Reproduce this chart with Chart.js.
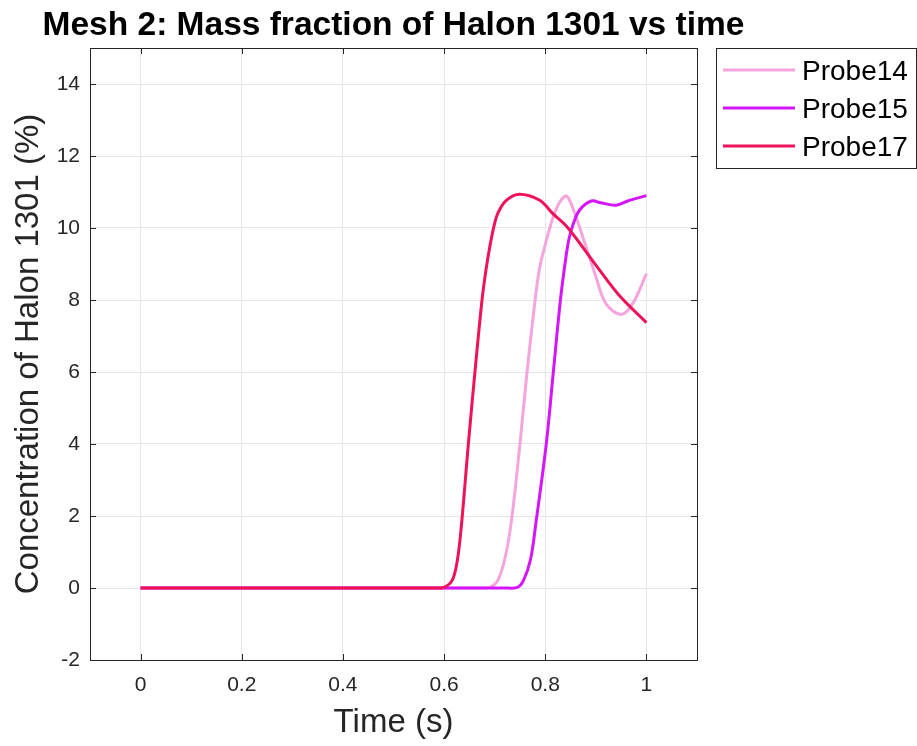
<!DOCTYPE html>
<html>
<head>
<meta charset="utf-8">
<script src="https://cdn.jsdelivr.net/npm/chart.js@4.4.0/dist/chart.umd.min.js"></script>
<style>
  body { margin: 0; background: #fff; }
  canvas { display: block; }
</style>
</head>
<body>
<canvas id="halon" width="917" height="746"></canvas>
<script>
// data
const probe14Time = [0, 0.67, 0.69, 0.706, 0.720, 0.733, 0.750, 0.764, 0.780, 0.789, 0.802, 0.810, 0.818, 0.831, 0.843, 0.861, 0.880, 0.900, 0.920, 0.950, 0.973, 1.0];
const probe14Vals = [0, 0, 0.02, 0.21, 0.8, 1.85, 4, 6, 8, 8.9, 9.65, 10.05, 10.4, 10.77, 10.88, 10.3, 9.5, 8.65, 7.9, 7.6, 7.9, 8.73];

const probe15Time = [0, 0.72, 0.745, 0.757, 0.771, 0.781, 0.802, 0.816, 0.830, 0.841, 0.847, 0.855, 0.868, 0.891, 0.910, 0.940, 0.963, 1.0];
const probe15Vals = [0, 0, 0.02, 0.21, 0.8, 1.75, 4, 6, 8, 9.2, 9.7, 10.1, 10.5, 10.75, 10.7, 10.63, 10.75, 10.9];

const probe17Time = [0, 0.58, 0.60, 0.616, 0.626, 0.634, 0.648, 0.661, 0.675, 0.683, 0.690, 0.697, 0.706, 0.723, 0.749, 0.789, 0.815, 0.845, 0.900, 0.946, 1.0];
const probe17Vals = [0, 0, 0.02, 0.21, 0.75, 1.7, 4, 6, 8, 8.85, 9.45, 9.95, 10.4, 10.77, 10.94, 10.77, 10.4, 10, 8.97, 8.13, 7.37];

const seriesNames = ['Probe14', 'Probe15', 'Probe17'];
const seriesColors = ['#f5a4de', '#d416f8', '#ee1358'];

const xTicks = [0, 0.2, 0.4, 0.6, 0.8, 1];
const xTickLabels = ['0', '0.2', '0.4', '0.6', '0.8', '1'];
const yTicks = [-2, 0, 2, 4, 6, 8, 10, 12, 14];
const yTickLabels = ['-2', '0', '2', '4', '6', '8', '10', '12', '14'];

const titleText = 'Mesh 2: Mass fraction of Halon 1301 vs time';
const FONT = '"Liberation Sans", Arial, Helvetica, sans-serif';
const AXIS = '#262626';

function pts(t, v) {
  return t.map((x, i) => ({ x: x, y: v[i] }));
}

// box, inward ticks, title and legend like the matlab figure
const matlabFrame = {
  id: 'matlabFrame',
  afterDatasetsDraw(chart) {
    const ctx = chart.ctx;
    const a = chart.chartArea;
    const xs = chart.scales.x, ys = chart.scales.y;
    ctx.save();
    ctx.strokeStyle = AXIS;
    ctx.lineWidth = 1;
    ctx.beginPath();
    xTicks.forEach(v => {
      const px = Math.round(xs.getPixelForValue(v)) + 0.5;
      ctx.moveTo(px, a.bottom); ctx.lineTo(px, a.bottom - 6);
      ctx.moveTo(px, a.top); ctx.lineTo(px, a.top + 6);
    });
    yTicks.forEach(v => {
      const py = Math.round(ys.getPixelForValue(v)) + 0.5;
      ctx.moveTo(a.left, py); ctx.lineTo(a.left + 6, py);
      ctx.moveTo(a.right, py); ctx.lineTo(a.right - 6, py);
    });
    ctx.stroke();
    ctx.strokeRect(Math.round(a.left) + 0.5, Math.round(a.top) + 0.5,
      Math.round(a.right - a.left), Math.round(a.bottom - a.top));
    ctx.restore();
  },
  afterDraw(chart) {
    const ctx = chart.ctx;
    const a = chart.chartArea;
    ctx.save();
    ctx.fillStyle = '#000';
    ctx.font = 'bold 33.5px ' + FONT;
    ctx.textAlign = 'center';
    ctx.textBaseline = 'alphabetic';
    ctx.fillText(titleText, (a.left + a.right) / 2, 35);

    // legend
    ctx.fillStyle = '#fff';
    ctx.fillRect(716, 48, 200, 120);
    ctx.strokeStyle = AXIS;
    ctx.lineWidth = 1;
    ctx.strokeRect(716.5, 48.5, 200, 120);
    ctx.font = '28px ' + FONT;
    ctx.textAlign = 'left';
    seriesNames.forEach((name, i) => {
      const y = 70 + i * 38;
      ctx.strokeStyle = seriesColors[i];
      ctx.lineWidth = 3;
      ctx.beginPath();
      ctx.moveTo(723, y); ctx.lineTo(795, y);
      ctx.stroke();
      ctx.fillStyle = '#000';
      ctx.fillText(name, 802, y + 10);
    });
    ctx.restore();
  }
};

const ds = [
  { label: seriesNames[0], data: pts(probe14Time, probe14Vals), order: 3 },
  { label: seriesNames[1], data: pts(probe15Time, probe15Vals), order: 2 },
  { label: seriesNames[2], data: pts(probe17Time, probe17Vals), order: 1 }
].map((d, i) => Object.assign(d, {
  borderColor: seriesColors[i],
  backgroundColor: seriesColors[i],
  borderWidth: 3,
  pointRadius: 0,
  fill: false,
  tension: 0.35
}));

new Chart(document.getElementById('halon'), {
  type: 'line',
  data: { datasets: ds },
  options: {
    responsive: false,
    animation: false,
    devicePixelRatio: 1,
    layout: { padding: { top: 48, right: 220, left: 0, bottom: 0 } },
    plugins: {
      legend: { display: false },
      title: { display: false },
      tooltip: { enabled: false }
    },
    scales: {
      x: {
        type: 'linear',
        min: -0.1,
        max: 1.1,
        afterBuildTicks: s => { s.ticks = xTicks.map(v => ({ value: v })); },
        afterFit: s => { s.height = 86; },
        grid: { color: '#e6e6e6', drawTicks: false },
        border: { display: false },
        ticks: {
          padding: 13,
          color: AXIS,
          font: { family: FONT, size: 21 },
          maxRotation: 0,
          callback: (v, i) => xTickLabels[i]
        },
        title: {
          display: true,
          text: 'Time (s)',
          color: AXIS,
          font: { family: FONT, size: 33 },
          padding: { top: 0, bottom: 3 }
        }
      },
      y: {
        min: -2,
        max: 15,
        afterBuildTicks: s => { s.ticks = yTicks.map(v => ({ value: v })); },
        afterFit: s => { s.width = 90; },
        grid: { color: '#e6e6e6', drawTicks: false },
        border: { display: false },
        ticks: {
          padding: 10,
          color: AXIS,
          font: { family: FONT, size: 21 },
          callback: (v, i) => yTickLabels[i]
        },
        title: {
          display: true,
          text: 'Concentration of Halon 1301 (%)',
          color: AXIS,
          font: { family: FONT, size: 33 },
          padding: { top: 9, bottom: 0 }
        }
      }
    }
  },
  plugins: [matlabFrame]
});
</script>
</body>
</html>
